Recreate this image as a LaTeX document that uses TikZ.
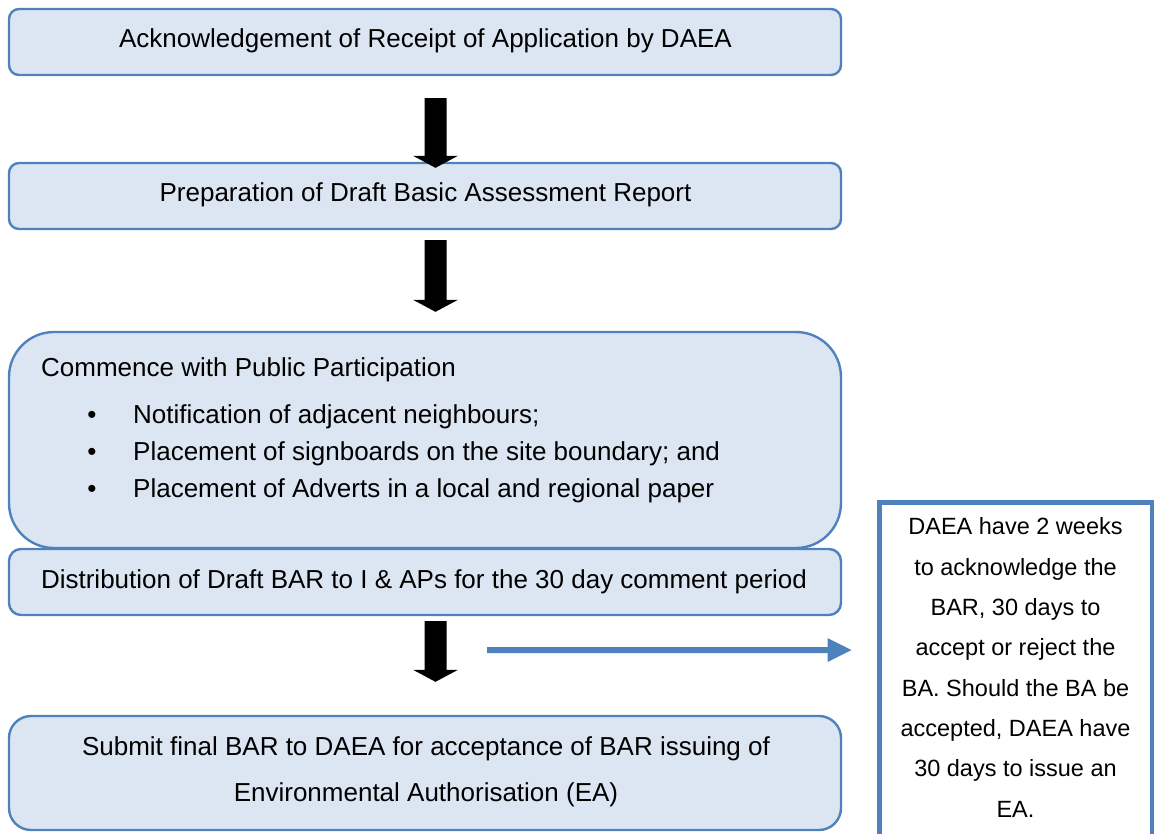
\documentclass[tikz,border=0pt]{standalone}
\usepackage{fontspec}
\setmainfont{Liberation Sans}
\usetikzlibrary{calc}
\definecolor{boxfill}{RGB}{220,230,242}
\definecolor{boxline}{RGB}{79,129,189}
\newcommand\blkarrow[2]{%
  \fill[black] ([xshift=-11pt]#1) -- ([xshift=11pt]#1) -- ([xshift=11pt,yshift=12pt]#2)
   -- ([xshift=22.5pt,yshift=12pt]#2) -- (#2) -- ([xshift=-22.5pt,yshift=12pt]#2)
   -- ([xshift=-11pt,yshift=12pt]#2) -- cycle;}
\begin{document}
\begin{tikzpicture}[x=1pt,y=1pt,
  stagebox/.style={draw=boxline, fill=boxfill, line width=2.4pt, minimum width=832pt, inner sep=0pt},
  txt/.style={inner sep=0pt, font=\fontsize{26}{30}\selectfont},
  sidebox/.style={draw=boxline, fill=white, line width=5pt, inner sep=0pt, minimum width=273pt}]
\clip (0,0) rectangle (1154,-833);
\useasboundingbox (0,0) rectangle (1154,-833);
% boxes
\node[stagebox, rounded corners=10pt, minimum height=66pt] (b1) at (425,-42) {};
\node[stagebox, rounded corners=10pt, minimum height=66pt] (b2) at (425,-196) {};
\node[stagebox, rounded corners=45pt, minimum height=216pt] (b3) at (425,-440) {};
\node[stagebox, rounded corners=12pt, minimum height=66pt] (b4) at (425,-582) {};
\node[stagebox, rounded corners=22pt, minimum height=114pt] (b5) at (425,-773) {};
\node[sidebox, minimum height=348pt] (side) at (1015.5,-676.5) {};
% texts
\node[txt, anchor=base] (t1) at (425.5,-47) {Acknowledgement of Receipt of Application by DAEA};
\node[txt, anchor=base] (t2) at (425.5,-201) {Preparation of Draft Basic Assessment Report};
\node[txt, anchor=base west] (t3) at (41,-376) {Commence with Public Participation};
\node[txt, anchor=base] (u1) at (92,-423) {\textbullet};
\node[txt, anchor=base] (u2) at (92,-460) {\textbullet};
\node[txt, anchor=base] (u3) at (92,-497) {\textbullet};
\node[txt, anchor=base west] (l1) at (133,-423) {Notification of adjacent neighbours;};
\node[txt, anchor=base west] (l2) at (133,-460) {Placement of signboards on the site boundary; and};
\node[txt, anchor=base west] (l3) at (133,-497) {Placement of Adverts in a local and regional paper};
\node[txt, anchor=base] (t4) at (424,-588) {Distribution of Draft BAR to I \& APs for the 30 day comment period};
\node[txt, anchor=base, align=center, font=\fontsize{26}{46}\selectfont] (t5) at (426,-801)
  {Submit final BAR to DAEA for acceptance of BAR issuing of\\Environmental Authorisation (EA)};
\node[txt, anchor=base, align=center, font=\fontsize{23.5}{40.3}\selectfont] (ts) at (1015.5,-817)
  {DAEA have 2 weeks\\to acknowledge the\\BAR, 30 days to\\accept or reject the\\BA. Should the BA be\\accepted, DAEA have\\30 days to issue an\\EA.};
% black block arrows
\coordinate (a1t) at ($(b1.south)+(10.5,-22)$);
\coordinate (a1h) at ($(b2.north)+(10.5,-6)$);
\coordinate (a2t) at ($(b2.south)+(10.5,-10)$);
\coordinate (a2h) at ($(b3.north)+(10.5,19)$);
\coordinate (a3t) at ($(b4.south)+(10.5,-5)$);
\coordinate (a3h) at ($(b5.north)+(10.5,33)$);
\blkarrow{a1t}{a1h}
\blkarrow{a2t}{a2h}
\blkarrow{a3t}{a3h}
% blue arrow
\coordinate (bs) at (487,-650);
\coordinate (be) at ($(side.west |- bs)+(-25,0)$);
\fill[boxline] ([yshift=3pt]bs) -- ([xshift=-24pt,yshift=3pt]be) -- ([xshift=-24pt,yshift=12pt]be)
  -- (be) -- ([xshift=-24pt,yshift=-12pt]be) -- ([xshift=-24pt,yshift=-3pt]be) -- ([yshift=-3pt]bs) -- cycle;
\end{tikzpicture}
\end{document}
